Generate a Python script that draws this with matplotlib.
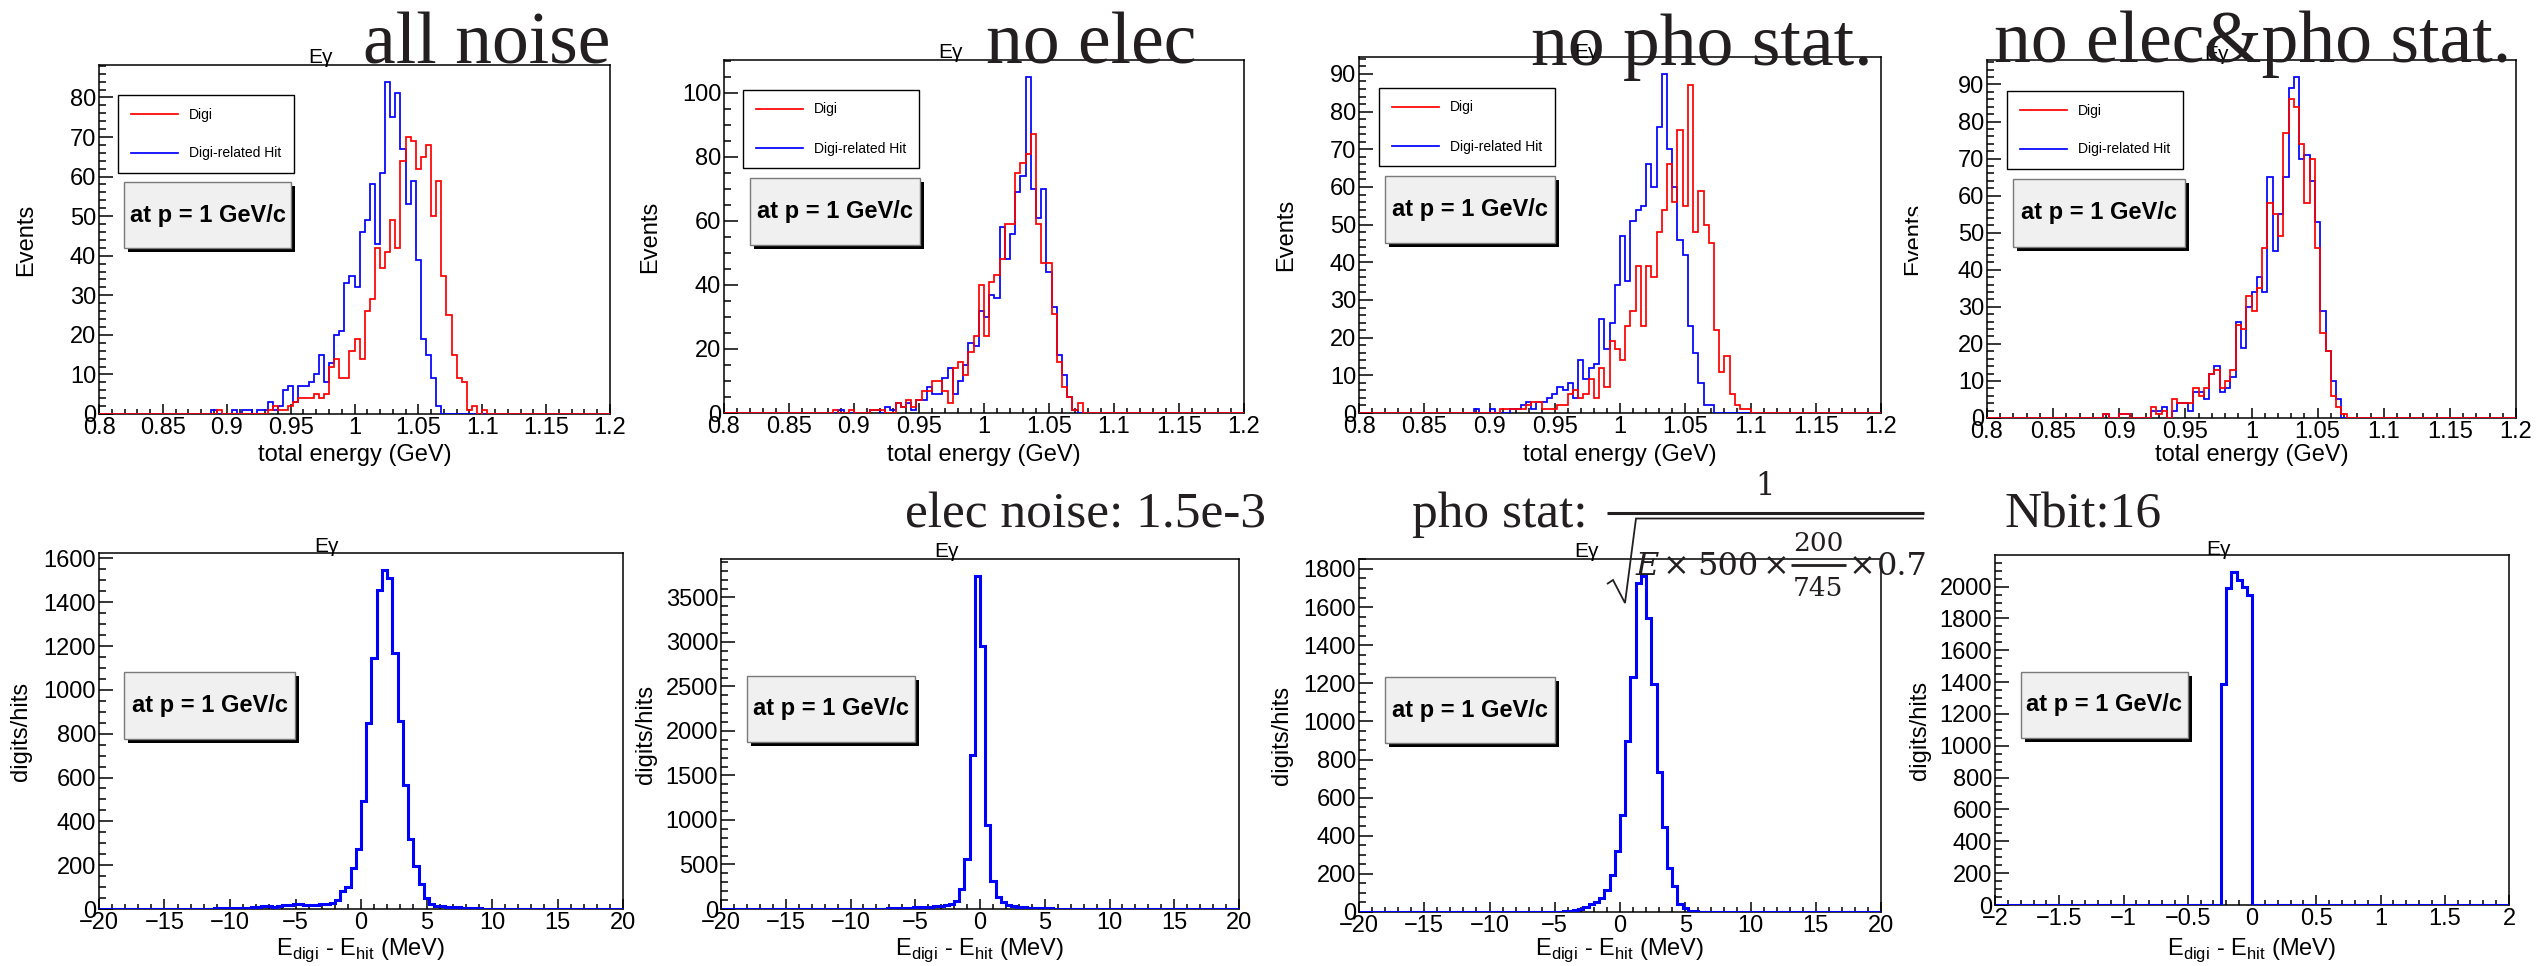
import numpy as np
import matplotlib
matplotlib.use("Agg")
import matplotlib.pyplot as plt
from matplotlib.lines import Line2D
from matplotlib.patches import Rectangle
from matplotlib.ticker import MultipleLocator, FuncFormatter
from matplotlib.transforms import Bbox, TransformedBbox

# ---------------- data ----------------
energy_range = (0.8, 1.2)       # GeV, 100 bins
diff_range_wide = (-20.0, 20.0)  # MeV, 100 bins
diff_range_narrow = (-2.0, 2.0)  # MeV, 100 bins
n_bins = 100

series_names = ["Digi", "Digi-related Hit"]
top_titles = ["all noise", "no elec", "no pho stat.", "no elec&pho stat."]
bottom_titles = ["elec noise: 1.5e-3", "pho stat:", "Nbit:16"]

# all noise
digi_all = [0,0,0,0,0,0,0,0,0,0,0,0,0,0,0,0,0,0,0,0,
            0,0,0,1,0,0,0,0,0,0,0,0,0,1,2,1,1,2,3,4,
            4,4,5,4,5,12,14,9,9,16,19,14,26,29,42,37,41,49,42,64,
            70,69,62,65,68,50,59,35,25,15,9,8,1,2,0,1,0,0,0,0,
            0,0,0,0,0,0,0,0,0,0,0,0,0,0,0,0,0,0,0,0]
hit_all = [0,0,0,0,0,0,0,0,0,0,0,0,0,0,0,0,0,0,0,0,
           0,0,1,0,0,0,1,0,1,1,0,1,1,3,1,2,6,7,3,7,
           7,8,10,15,8,13,20,21,33,35,32,46,49,58,43,61,84,75,81,67,
           53,59,39,19,15,9,2,0,0,0,0,0,0,0,0,0,0,0,0,0,
           0,0,0,0,0,0,0,0,0,0,0,0,0,0,0,0,0,0,0,0]
# no elec
digi_noelec = [0,0,0,0,0,0,0,0,0,0,0,0,0,0,0,0,0,0,0,0,
               0,1,0,0,1,0,0,0,1,1,1,0,0,3,2,4,2,4,7,7,
               10,10,7,3,14,16,12,19,24,40,24,41,43,48,59,59,75,78,81,87,
               59,47,47,31,16,8,5,1,3,0,0,0,0,0,0,0,0,0,0,0,
               0,0,0,0,0,0,0,0,0,0,0,0,0,0,0,0,0,0,0,0]
hit_noelec = [0,0,0,0,0,0,0,0,0,0,0,0,0,0,0,0,0,0,0,0,
              0,0,1,0,0,0,0,0,1,1,0,2,1,3,2,3,1,4,4,8,
              6,6,11,14,6,10,15,22,21,32,30,37,36,58,48,56,69,74,105,70,
              61,70,44,33,18,12,5,1,0,0,0,0,0,0,0,0,0,0,0,0,
              0,0,0,0,0,0,0,0,0,0,0,0,0,0,0,0,0,0,0,0]
# no photo-statistics
digi_nopho = [0,0,0,0,0,0,0,0,0,0,0,0,0,0,0,0,0,0,0,0,
              0,0,0,0,0,0,0,1,1,1,1,1,2,3,3,1,1,1,2,2,
              5,6,4,5,9,4,12,7,19,17,14,23,27,39,23,39,36,48,54,66,
              56,75,55,87,48,59,50,45,22,11,15,5,2,1,1,0,0,0,0,0,
              0,0,0,0,0,0,0,0,0,0,0,0,0,0,0,0,0,0,0,0]
hit_nopho = [0,0,0,0,0,0,0,0,0,0,0,0,0,0,0,0,0,0,0,0,
             0,0,1,0,0,1,0,0,0,1,1,2,3,1,3,3,4,5,7,6,
             8,4,14,9,12,13,25,17,24,34,47,35,51,54,55,66,60,76,90,70,
             60,46,42,23,16,8,2,2,0,0,0,0,0,0,0,0,0,0,0,0,
             0,0,0,0,0,0,0,0,0,0,0,0,0,0,0,0,0,0,0,0]
# no elec & no photo-statistics
digi_none = [0,0,0,0,0,0,0,0,0,0,0,0,0,0,0,0,0,0,0,0,
             0,0,1,0,0,1,1,0,0,0,0,3,1,2,0,5,4,4,4,8,
             6,8,12,13,8,10,13,25,24,33,29,35,46,58,55,49,77,86,84,74,
             58,70,46,23,18,6,3,1,0,0,0,0,0,0,0,0,0,0,0,0,
             0,0,0,0,0,0,0,0,0,0,0,0,0,0,0,0,0,0,0,0]
hit_none = [0,0,0,0,0,0,0,0,0,0,0,0,0,0,0,0,0,0,0,0,
            0,0,1,0,0,1,1,0,0,0,0,2,2,3,0,2,4,4,2,7,
            7,5,12,14,7,8,11,26,19,30,34,38,34,65,45,55,65,89,92,70,
            71,64,53,29,18,10,5,0,0,0,0,0,0,0,0,0,0,0,0,0,
            0,0,0,0,0,0,0,0,0,0,0,0,0,0,0,0,0,0,0,0]

# E_digi - E_hit distributions
diff_all = [0,0,0,0,0,0,0,0,0,0,0,0,0,0,0,0,0,0,1,1,
            2,2,3,3,4,4,5,5,6,7,10,12,12,11,12,16,20,22,22,18,
            18,17,25,22,28,40,80,100,185,272,495,850,1146,1456,1547,1508,1169,857,568,318,
            198,112,52,25,15,13,10,10,8,5,4,4,3,2,2,2,1,1,1,1,
            1,1,1,0,0,0,0,0,0,0,0,0,0,0,0,0,0,0,0,0]
diff_noelec = [0,0,0,0,0,0,0,0,0,0,0,0,0,0,0,0,0,0,0,0,
               0,0,0,0,0,1,1,2,2,3,4,5,6,8,10,12,15,18,20,25,
               28,30,35,45,60,85,225,563,1731,3745,2959,940,310,130,75,50,35,25,20,15,
               12,10,8,6,5,4,3,2,2,1,1,0,0,0,0,0,0,0,0,0,
               0,0,0,0,0,0,0,0,0,0,0,0,0,0,0,0,0,0,0,0]
diff_nopho = [0,0,0,0,0,0,0,0,0,0,0,0,0,0,0,0,0,0,0,0,
              0,0,0,0,0,0,0,0,0,0,0,0,0,0,0,0,0,1,2,4,
              6,10,18,25,40,50,72,118,192,318,510,897,1232,1725,1764,1545,1194,735,445,232,
              135,44,20,6,3,2,1,0,0,0,0,0,0,0,0,0,0,0,0,0,
              0,0,0,0,0,0,0,0,0,0,0,0,0,0,0,0,0,0,0,0]
diff_nbit = [0,0,0,0,0,0,0,0,0,0,0,0,0,0,0,0,0,0,0,0,
             0,0,0,0,0,0,0,0,0,0,0,0,0,0,0,0,0,0,0,0,
             0,0,0,0,1390,1989,2094,2040,2000,1945,0,0,0,0,0,0,0,0,0,0,
             0,0,0,0,0,0,0,0,0,0,0,0,0,0,0,0,0,0,0,0,
             0,0,0,0,0,0,0,0,0,0,0,0,0,0,0,0,0,0,0,0]

# ---------------- figure ----------------
W, H = 2542, 966
plt.rcParams['font.family'] = ['Liberation Sans', 'DejaVu Sans']
plt.rcParams['axes.unicode_minus'] = True

TXT = '#231f20'

def fx(x):
    return x / W

def fy(y):
    return 1 - y / H

fig = plt.figure(figsize=(W / 100, H / 100), dpi=100)
fig.patch.set_facecolor('white')

def fmt(v, pos):
    s = '%g' % round(v, 6)
    return s.replace('-', '\u2212')

def make_ax(box):
    l, t, r, b = box
    return fig.add_axes([fx(l), fy(b), (r - l) / W, (b - t) / H])

def style_ax(ax, xr, xmaj, xmin, ymaj, ymin, ymax):
    ax.set_xlim(*xr)
    ax.set_ylim(0, ymax)
    ax.xaxis.set_major_locator(MultipleLocator(xmaj))
    ax.xaxis.set_minor_locator(MultipleLocator(xmin))
    ax.yaxis.set_major_locator(MultipleLocator(ymaj))
    ax.yaxis.set_minor_locator(MultipleLocator(ymin))
    ax.xaxis.set_major_formatter(FuncFormatter(fmt))
    ax.yaxis.set_major_formatter(FuncFormatter(fmt))
    ax.tick_params(which='both', direction='in', top=False, right=False,
                   labelsize=17, pad=2, color='black', width=1.1)
    ax.tick_params(axis='y', which='major', length=10)
    ax.tick_params(axis='y', which='minor', length=5)
    ax.tick_params(axis='x', which='major', length=7)
    ax.tick_params(axis='x', which='minor', length=3.4)
    for s in ax.spines.values():
        s.set_linewidth(1.1)
        s.set_color('black')

def set_labels(ax, box, xlabel, xl_base, ylabel, yl_x):
    l, t, r, b = box
    ax.set_xlabel(xlabel, fontsize=17, va='baseline')
    ax.xaxis.set_label_coords(0.5, -(xl_base - b) / (b - t))
    ax.set_ylabel(ylabel, fontsize=17, va='center')
    ax.yaxis.set_label_coords((yl_x - l) / (r - l), 0.5)

def pave(x0, y0, x1, y1):
    fig.add_artist(Rectangle((fx(x0 + 4), fy(y1 + 4)), (x1 - x0) / W, (y1 - y0) / H,
                             transform=fig.transFigure, facecolor='black',
                             edgecolor='none', zorder=4))
    fig.add_artist(Rectangle((fx(x0), fy(y1)), (x1 - x0) / W, (y1 - y0) / H,
                             transform=fig.transFigure, facecolor='#f0f0f0',
                             edgecolor='#7a7a7a', lw=1.0, zorder=5))
    fig.text(fx((x0 + x1) / 2), fy((y0 + y1) / 2), 'at p = 1 GeV/c', fontsize=17,
             fontweight='bold', ha='center', va='center', zorder=6)

def small_title(cx, base):
    fig.text(fx(cx), fy(base), 'E\u03b3', fontsize=15, ha='center', va='baseline', zorder=7)

def big_text(x, base, s, size):
    fig.text(fx(x), fy(base), s, fontfamily='Liberation Serif', fontsize=size,
             color=TXT, ha='left', va='baseline', zorder=10)

def math_piece(cx, base, s, size, style='normal'):
    fig.text(fx(cx), fy(base), s, fontfamily='DejaVu Serif', fontsize=size,
             fontstyle=style, color=TXT, ha='center', va='baseline', zorder=10)

def fig_line(xs, ys, lw):
    fig.add_artist(Line2D([fx(v) for v in xs], [fy(v) for v in ys], color=TXT, lw=lw,
                          transform=fig.transFigure, zorder=10,
                          solid_joinstyle='miter', solid_capstyle='butt'))

e_edges = np.linspace(energy_range[0], energy_range[1], n_bins + 1)
dw_edges = np.linspace(diff_range_wide[0], diff_range_wide[1], n_bins + 1)
dn_edges = np.linspace(diff_range_narrow[0], diff_range_narrow[1], n_bins + 1)

# ---- top row ----
top_data = [(digi_all, hit_all), (digi_noelec, hit_noelec),
            (digi_nopho, hit_nopho), (digi_none, hit_none)]
top_boxes = [(99, 65, 610, 414), (724, 60, 1244, 413),
             (1359, 57, 1881, 413), (1987, 60, 2516, 418)]
top_ymaj = [10, 20, 10, 10]
top_ymin = [2, 5, 2, 2]
top_ylab_x = [26, 650, 1286, 1914]
top_title_c = [(321, 63), (951, 58), (1587, 58), (2217, 60)]
top_leg = [(118, 95), (743, 90), (1379, 88), (2007, 91)]
top_pave = [(124, 182, 291, 248), (750, 178, 920, 245),
            (1385, 176, 1555, 243), (2013, 179, 2185, 247)]

for k in range(4):
    box = top_boxes[k]
    ax = make_ax(box)
    digi, hit = top_data[k]
    ymax = max(max(digi), max(hit)) * 1.05
    ax.stairs(hit, e_edges, color='#0000ff', lw=1.25, zorder=3)
    ax.stairs(digi, e_edges, color='#ff0000', lw=1.25, zorder=3.1)
    style_ax(ax, energy_range, 0.05, 0.01, top_ymaj[k], top_ymin[k], ymax)
    set_labels(ax, box, 'total energy (GeV)', 461, 'Events', top_ylab_x[k])
    handles = [Line2D([], [], color='#ff0000', lw=1.25), Line2D([], [], color='#0000ff', lw=1.25)]
    lx, ly = top_leg[k]
    leg = ax.legend(handles, series_names, loc='upper left',
                    bbox_to_anchor=(fx(lx), fy(ly)), bbox_transform=fig.transFigure,
                    borderaxespad=0, fontsize=10, handlelength=3.4, handletextpad=0.8,
                    labelspacing=1.8, borderpad=0.9, fancybox=False, framealpha=1,
                    edgecolor='black')
    leg.get_frame().set_linewidth(1.0)
    small_title(*top_title_c[k])
    pave(*top_pave[k])
    if k == 3:
        lab = ax.yaxis.label
        lab.set_clip_box(TransformedBbox(Bbox([[fx(1890), 0], [fx(1918), 1]]), fig.transFigure))
        lab.set_clip_on(True)

# ---- bottom row ----
bot_data = [diff_all, diff_noelec, diff_nopho, diff_nbit]
bot_edges = [dw_edges, dw_edges, dw_edges, dn_edges]
bot_range = [diff_range_wide, diff_range_wide, diff_range_wide, diff_range_narrow]
bot_boxes = [(99, 553, 623, 909), (721, 559, 1239, 909),
             (1359, 559, 1881, 912), (1995, 555, 2509, 905)]
bot_xmaj = [5, 5, 5, 0.5]
bot_xmin = [1, 1, 1, 0.1]
bot_ymaj = [200, 500, 200, 200]
bot_ymin = [50, 100, 50, 50]
bot_ylab_x = [21, 646, 1282, 1920]
bot_title_c = [(327, 552), (947, 557), (1587, 557), (2219, 555)]
bot_pave = [(124, 672, 295, 739), (747, 676, 915, 742),
            (1385, 677, 1555, 743), (2021, 672, 2188, 738)]
xlab_bot = r'E$_{\mathregular{digi}}$ - E$_{\mathregular{hit}}$ (MeV)'

for k in range(4):
    box = bot_boxes[k]
    ax = make_ax(box)
    vals = bot_data[k]
    ax.stairs(vals, bot_edges[k], color='#0000ff', lw=2.2, zorder=3)
    style_ax(ax, bot_range[k], bot_xmaj[k], bot_xmin[k], bot_ymaj[k], bot_ymin[k],
             max(vals) * 1.05)
    set_labels(ax, box, xlab_bot, 955, 'digits/hits', bot_ylab_x[k])
    small_title(*bot_title_c[k])
    pave(*bot_pave[k])

# ---- overlay annotations ----
big_text(363, 63, top_titles[0], 53)
big_text(986, 63, top_titles[1], 53)
big_text(1531, 65, top_titles[2], 53)
big_text(1994, 62, top_titles[3], 53)
big_text(905, 527, bottom_titles[0], 37)
big_text(1412, 527, bottom_titles[1], 37)
big_text(2004, 527, bottom_titles[2], 37)

# photo-statistics formula: 1 / sqrt(E x 500 x 200/745 x 0.7)
math_piece(1765, 495, '1', 22)
fig_line([1607, 1924], [513, 513], 2.2)
fig_line([1607, 1613, 1625, 1636, 1924], [584, 580, 603, 518.5, 518.5], 1.3)
math_piece(1647, 575, 'E', 23, 'italic')
math_piece(1676, 575, '\u00d7', 23)
math_piece(1728, 575, '500', 23)
math_piece(1776, 575, '\u00d7', 23)
math_piece(1818, 551, '200', 19)
fig_line([1791, 1846], [565, 565], 2.0)
math_piece(1818, 596, '745', 19)
math_piece(1862, 575, '\u00d7', 23)
math_piece(1902, 575, '0.7', 23)

fig.savefig('out.png', dpi=100, facecolor='white')
